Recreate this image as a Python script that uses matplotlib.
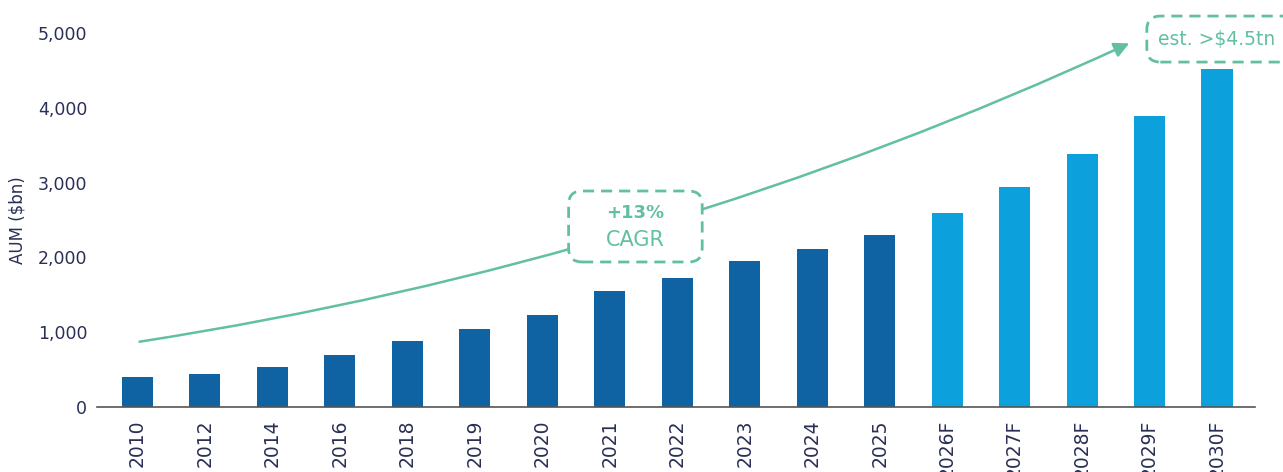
import matplotlib.pyplot as plt
from matplotlib.patches import FancyBboxPatch

# AUM by year, $bn
years = ['2010', '2012', '2014', '2016', '2018', '2019', '2020', '2021', '2022',
         '2023', '2024', '2025', '2026F', '2027F', '2028F', '2029F', '2030F']
aum = [400, 440, 535, 695, 880, 1045, 1230, 1550, 1725,
       1950, 2110, 2300, 2595, 2940, 3380, 3890, 4520]
forecast = [y.endswith('F') for y in years]

# trend arrow: start and tip (bar index, value)
trend_start = (0.03, 873)
trend_tip = (14.70, 4862)

dark = '#1063a3'
light = '#0ca0dc'
green = '#62bfa4'
navy = '#2a2f55'

plt.rcParams['font.family'] = ['DejaVu Sans']

fig = plt.figure(figsize=(12.83, 4.72), dpi=100)
ax = fig.add_axes([0.0756, 0.1377, 0.9024, 0.7923])

x = list(range(len(years)))
colors = [light if f else dark for f in forecast]
ax.bar(x, aum, width=0.46, color=colors, zorder=2)

ax.set_xlim(-0.6, 16.56)
ax.set_ylim(0, 5000)
ax.set_yticks([0, 1000, 2000, 3000, 4000, 5000])
ax.set_yticklabels(['0', '1,000', '2,000', '3,000', '4,000', '5,000'])
ax.set_xticks(x)
ax.set_xticklabels(years, rotation=90)
ax.tick_params(axis='y', length=0, labelsize=12.5, colors=navy, pad=7)
ax.tick_params(axis='x', length=0, labelsize=13.5, colors=navy, pad=9)
for s in ['top', 'right', 'left']:
    ax.spines[s].set_visible(False)
ax.spines['bottom'].set_color('#555555')
ax.spines['bottom'].set_linewidth(1.2)
ax.set_ylabel('AUM ($bn)', fontsize=12, color=navy, labelpad=8)

# curved trend arrow
ax.annotate('', xy=trend_tip, xytext=trend_start,
            arrowprops=dict(arrowstyle='-|>,head_length=0.9,head_width=0.45',
                            connectionstyle='arc3,rad=0.07',
                            color=green, lw=1.8, shrinkA=0, shrinkB=0), zorder=3)

asp = (ax.bbox.width / (16.56 + 0.6)) / (ax.bbox.height / 5000)

# CAGR box
cagr_box = FancyBboxPatch((6.39, 1939), 8.37 - 6.39, 2888 - 1939,
                          boxstyle='round,pad=0,rounding_size=0.2',
                          mutation_aspect=asp, facecolor='white', edgecolor=green,
                          lw=2, ls=(0, (4, 2.5)), zorder=4)
ax.add_patch(cagr_box)
ax.text(7.38, 2600, '+13%', ha='center', va='center', fontsize=13,
        fontweight='bold', color=green, zorder=5)
ax.text(7.38, 2230, 'CAGR', ha='center', va='center', fontsize=15,
        color=green, zorder=5)

# estimate box
est_box = FancyBboxPatch((14.96, 4612), 17.2 - 14.96, 5227 - 4612,
                         boxstyle='round,pad=0,rounding_size=0.2',
                         mutation_aspect=asp, facecolor='white', edgecolor=green,
                         lw=2, ls=(0, (4, 2.5)), zorder=4, clip_on=False)
ax.add_patch(est_box)
ax.text(15.13, 4920, 'est. >$4.5tn', ha='left', va='center', fontsize=13.5,
        color=green, zorder=5, clip_on=False)

fig.savefig('out.png', dpi=100)
